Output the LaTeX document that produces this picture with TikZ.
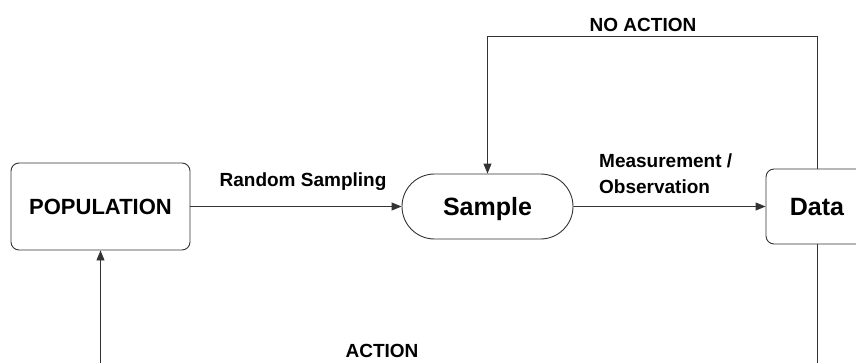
\documentclass[tikz,border=0pt]{standalone}
\usepackage{fontspec}
\setmainfont{Liberation Sans}
\usetikzlibrary{positioning,shapes.misc,arrows.meta}

\begin{document}
\begin{tikzpicture}[x=1pt,y=-1pt]
        \tikzstyle{every node}=[font=\bfseries]
        \tikzstyle{box}=[draw=black!80, line width=0.9pt, text depth=0pt, inner sep=0pt]
        \tikzstyle{proc}=[box, rounded corners=8pt]
        \tikzstyle{term}=[box, rounded rectangle]
        \tikzstyle{flow}=[draw=black!80, line width=0.9pt, -{Triangle[length=10pt,width=8pt]}]
        \tikzstyle{tag}=[inner sep=0pt, anchor=base, font=\bfseries\fontsize{19}{26.5}\selectfont]

        \useasboundingbox (0,0) rectangle (856,362);
        \clip (0,0) rectangle (856,362);

        \node (population) [proc, minimum width=179pt, minimum height=87pt,
            font=\bfseries\fontsize{22}{26}\selectfont] at (100.5,206.5) {POPULATION};
        \node (sample) [term, minimum width=171pt, minimum height=65pt,
            font=\bfseries\fontsize{25}{30}\selectfont] at (487.5,206.5) {Sample};
        \node (data) [proc, minimum width=102pt, minimum height=75pt,
            font=\bfseries\fontsize{25}{30}\selectfont] at (817,206.5) {Data};

        \node (sampling) [tag] at (303,186) {Random Sampling};
        \node (measure) [tag, anchor=west, align=left] at (599,173.5) {Measurement /\\Observation};
        \node (noaction) [tag] at (643,31) {NO ACTION};
        \node (action) [tag] at (382,357) {ACTION};

        \coordinate (top) at (0,36);
        \coordinate (bottom) at (0,374);

        \draw[flow] (population) -- (sample);
        \draw[flow] (sample) -- (data);
        \draw[flow] (data.north) |- (top -| sample.north) -- (sample.north);
        \draw[flow] (data.south) |- (bottom -| population.south) -- (population.south);

\end{tikzpicture}
\end{document}
